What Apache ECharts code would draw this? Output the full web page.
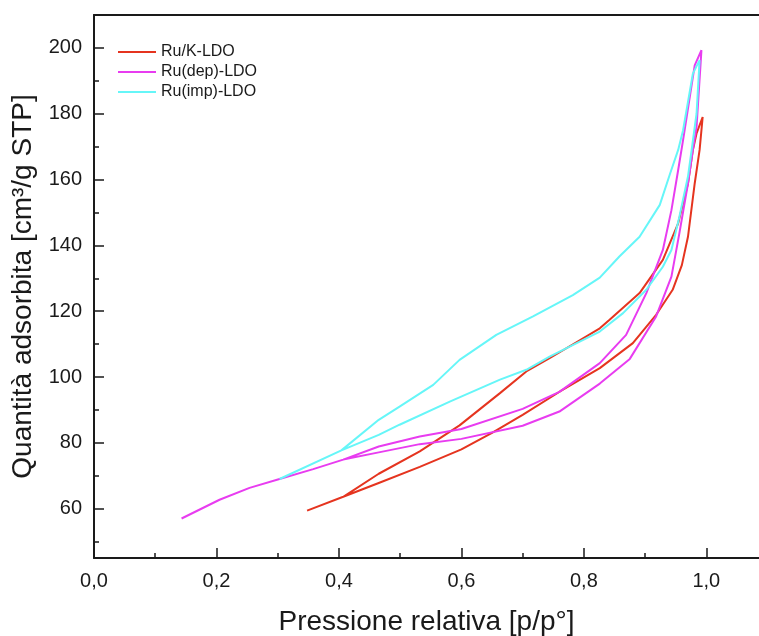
<!DOCTYPE html>
<html>
<head>
<meta charset="utf-8">
<script src="https://cdn.jsdelivr.net/npm/echarts@6/dist/echarts.min.js"></script>
<style>
  html, body { margin: 0; padding: 0; background: #fff; }
  #chart { width: 759px; height: 636px; }
</style>
</head>
<body>
<div id="chart"></div>
<script>
// isoterme: ramo di adsorbimento (sale) e desorbimento (scende), [p/p°, quantità]
const redAds = [[0.348,59.4],[0.407,63.6],[0.465,67.8],[0.532,72.7],[0.600,78.0],[0.650,83.0],[0.700,88.5],[0.761,95.6],[0.826,102.7],[0.880,110.3],[0.918,118.9],[0.945,126.5],[0.960,134.0],[0.970,142.6],[0.981,158.8],[0.989,169.0],[0.994,179.0]];
const redDes = [[0.994,179.0],[0.984,174.0],[0.978,169.0],[0.970,158.8],[0.954,146.7],[0.929,135.6],[0.891,125.5],[0.842,117.4],[0.826,114.8],[0.744,105.7],[0.706,101.7],[0.663,95.1],[0.597,85.3],[0.532,77.4],[0.465,70.6],[0.407,63.6]];

const magAds = [[0.143,57.0],[0.205,62.7],[0.254,66.3],[0.303,69.0],[0.358,72.0],[0.407,74.9],[0.465,77.1],[0.532,79.6],[0.600,81.2],[0.700,85.2],[0.760,89.5],[0.826,98.0],[0.875,105.5],[0.918,118.4],[0.943,130.5],[0.956,143.7],[0.970,158.8],[0.978,169.0],[0.984,176.0],[0.992,199.3]];
const magDes = [[0.992,199.3],[0.981,194.7],[0.962,172.0],[0.954,162.9],[0.943,150.7],[0.929,138.6],[0.902,125.5],[0.869,112.8],[0.826,104.2],[0.760,95.5],[0.700,90.3],[0.600,84.2],[0.532,81.9],[0.465,78.9],[0.407,74.9]];

const cyaAds = [[0.303,69.0],[0.404,77.7],[0.465,82.4],[0.499,85.5],[0.581,92.5],[0.663,99.2],[0.706,102.2],[0.744,106.2],[0.826,113.8],[0.864,119.4],[0.902,126.5],[0.929,133.5],[0.943,138.6],[0.956,148.7],[0.970,160.9],[0.976,169.0],[0.984,180.0],[0.989,196.3]];
const cyaDes = [[0.989,196.3],[0.978,192.2],[0.962,175.0],[0.954,169.0],[0.941,161.9],[0.924,152.3],[0.891,142.6],[0.858,136.6],[0.826,130.2],[0.782,124.9],[0.717,118.4],[0.657,112.8],[0.597,105.2],[0.554,97.6],[0.499,91.0],[0.465,87.0],[0.404,77.7]];

const seriesNames = ['Ru/K-LDO', 'Ru(dep)-LDO', 'Ru(imp)-LDO'];
const colors = ['#e5341f', '#e83cf0', '#66f6f8'];

const xMajor = [0, 0.2, 0.4, 0.6, 0.8, 1.0];
const xMinor = [0.1, 0.3, 0.5, 0.7, 0.9];
const yMajor = [60, 80, 100, 120, 140, 160, 180, 200];
const yMinor = [50, 70, 90, 110, 130, 150, 170, 190];

const xMin = 0, xMax = 1.086;
const yMin = 45, yMax = 210;

const font = 'Liberation Sans, Arial, sans-serif';
const ink = '#1a1a1a';

const chart = echarts.init(document.getElementById('chart'));

// tre griglie sovrapposte: dati+etichette, tacche minori, tacche maggiori
const rect = { left: 94, top: 15, right: 0, height: 543, outerBoundsMode: 'none', containLabel: false };

const loops = [[redAds, redDes], [magAds, magDes], [cyaAds, cyaDes]];

const series = loops.map((l, i) => ({
  name: seriesNames[i],
  type: 'line',
  xAxisIndex: 0,
  yAxisIndex: 0,
  data: l[0].concat(l[1].slice(1)),
  symbol: 'none',
  lineStyle: { color: colors[i], width: 2 },
  itemStyle: { color: colors[i] },
  z: 3 + i
}));

function tickAxis(grid, pos, min, max, values, len) {
  return {
    type: 'value',
    gridIndex: grid,
    position: pos,
    min: min,
    max: max,
    splitLine: { show: false },
    axisLine: { show: false },
    axisTick: { inside: true, length: len, customValues: values, lineStyle: { color: ink, width: 1.5 } },
    axisLabel: { show: false }
  };
}

const option = {
  animation: false,
  backgroundColor: '#fff',
  textStyle: { fontFamily: font },
  grid: [
    Object.assign({}, rect),
    Object.assign({}, rect),
    Object.assign({}, rect)
  ],
  legend: {
    orient: 'vertical',
    left: 113,
    top: 39,
    icon: 'rect',
    itemWidth: 38,
    itemHeight: 2,
    itemGap: 4,
    textStyle: { fontFamily: font, fontSize: 16, color: ink },
    data: seriesNames
  },
  xAxis: [
    {
      type: 'value',
      gridIndex: 0,
      position: 'bottom',
      min: xMin,
      max: xMax,
      splitLine: { show: false },
      axisLine: { onZero: false, lineStyle: { color: ink, width: 2 } },
      axisTick: { show: false },
      axisLabel: {
        customValues: xMajor,
        margin: 13,
        fontFamily: font,
        fontSize: 20,
        color: ink,
        formatter: v => v.toFixed(1).replace('.', ',')
      },
      name: 'Pressione relativa [p/p°]',
      nameLocation: 'middle',
      nameGap: 50,
      nameTextStyle: { fontFamily: font, fontSize: 28, color: ink }
    },
    {
      type: 'value',
      gridIndex: 0,
      position: 'top',
      min: xMin,
      max: xMax,
      splitLine: { show: false },
      axisLine: { onZero: false, lineStyle: { color: ink, width: 2 } },
      axisTick: { show: false },
      axisLabel: { show: false }
    },
    tickAxis(1, 'bottom', xMin, xMax, xMinor, 5),
    tickAxis(2, 'bottom', xMin, xMax, xMajor, 10)
  ],
  yAxis: [
    {
      type: 'value',
      gridIndex: 0,
      position: 'left',
      min: yMin,
      max: yMax,
      splitLine: { show: false },
      axisLine: { onZero: false, lineStyle: { color: ink, width: 2 } },
      axisTick: { show: false },
      axisLabel: {
        customValues: yMajor,
        margin: 12,
        fontFamily: font,
        fontSize: 20,
        color: ink
      },
      name: 'Quantità adsorbita [cm³/g STP]',
      nameLocation: 'middle',
      nameGap: 57,
      nameTextStyle: { fontFamily: font, fontSize: 28, color: ink }
    },
    tickAxis(1, 'left', yMin, yMax, yMinor, 5),
    tickAxis(2, 'left', yMin, yMax, yMajor, 10)
  ],
  series: series
};

chart.setOption(option);
</script>
</body>
</html>
